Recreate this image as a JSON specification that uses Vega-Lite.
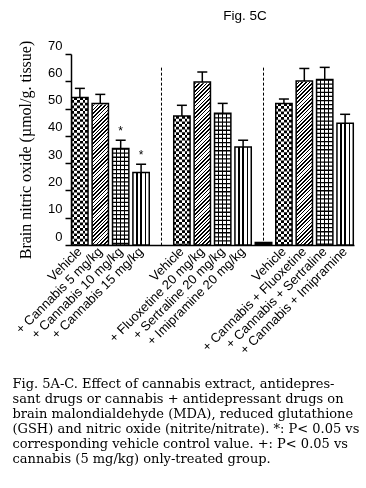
{
"$schema":"https://vega.github.io/schema/vega-lite/v6.json",
"width":283,"height":191,
"autosize":{"type":"none"},
"padding":{"left":71,"top":54,"right":12,"bottom":243},
"background":"white",
"config":{"view":{"stroke":null},"axis":{"labelFont":"Liberation Sans","labelColor":"#000","domainColor":"#000","tickColor":"#000","titleColor":"#000"},
"axisY":{"values":[0,10,20,30,40,50,60,70],"tickSize":6,"tickWidth":1.5,"domainWidth":1.5,"labelFontSize":13,"labelPadding":3,"labelOffset":-9,"grid":false,"titleFont":"Liberation Serif","titleFontSize":16,"titleFontWeight":"normal","titleAngle":-90,"titleX":-46,"titleY":95.5,"titleAlign":"center","titleBaseline":"middle"}},
"title":{"text":"Fig. 5C","font":"Liberation Sans","fontSize":13.5,"fontWeight":"normal","color":"#000","anchor":"middle","frame":"group","dx":32.5,"baseline":"middle","offset":10},
"datasets":{
"bars":[
{"key":"01|Vehicle","mean":54.1,"upper":57.4,"pattern":"checker","sig":""},
{"key":"02|+ Cannabis 5 mg/kg","mean":51.9,"upper":55.2,"pattern":"hatch","sig":""},
{"key":"03|+ Cannabis 10 mg/kg","mean":35.4,"upper":38.4,"pattern":"grid","sig":"*"},
{"key":"04|+ Cannabis 15 mg/kg","mean":26.6,"upper":29.6,"pattern":"vstripe","sig":"*"},
{"key":"06|Vehicle","mean":47.3,"upper":51.2,"pattern":"checker","sig":""},
{"key":"07|+ Fluoxetine 20 mg/kg","mean":59.7,"upper":63.4,"pattern":"hatch","sig":""},
{"key":"08|+ Sertraline 20 mg/kg","mean":48.3,"upper":51.9,"pattern":"grid","sig":""},
{"key":"09|+ Imipramine 20 mg/kg","mean":35.9,"upper":38.4,"pattern":"vstripe","sig":""},
{"key":"11|Vehicle","mean":51.9,"upper":53.5,"pattern":"checker","sig":""},
{"key":"12|+ Cannabis + Fluoxetine","mean":60.1,"upper":64.7,"pattern":"hatch","sig":""},
{"key":"13|+ Cannabis + Sertraline","mean":60.7,"upper":65.1,"pattern":"grid","sig":""},
{"key":"14|+ Cannabis + Imipramine","mean":44.6,"upper":47.9,"pattern":"vstripe","sig":""}
],
"seps":[{"key":"05|","top":65},{"key":"10|","top":65}],
"blob":[{"key":"10|","value":1.2}]
},
"data":{"name":"bars"},
"encoding":{
"x":{"field":"key","type":"nominal","sort":null,
"scale":{"domain":["01|Vehicle","02|+ Cannabis 5 mg/kg","03|+ Cannabis 10 mg/kg","04|+ Cannabis 15 mg/kg","05|","06|Vehicle","07|+ Fluoxetine 20 mg/kg","08|+ Sertraline 20 mg/kg","09|+ Imipramine 20 mg/kg","10|","11|Vehicle","12|+ Cannabis + Fluoxetine","13|+ Cannabis + Sertraline","14|+ Cannabis + Imipramine"],"paddingInner":0.2,"paddingOuter":0.035},
"axis":{"labelExpr":"split(datum.value,'|')[1]","labelAngle":-45,"labelAlign":"right","labelBaseline":"middle","labelFontSize":13,"labelPadding":4,"ticks":false,"domainWidth":1.5,"labelOverlap":false,"labelLimit":0,
"title":["Fig. 5A-C. Effect of cannabis extract, antidepres-","sant drugs or cannabis + antidepressant drugs on","brain malondialdehyde (MDA), reduced glutathione","(GSH) and nitric oxide (nitrite/nitrate). *: P< 0.05 vs","corresponding vehicle control value.  +: P< 0.05 vs","cannabis (5 mg/kg) only-treated group."],
"titleFont":"DejaVu Serif","titleFontSize":13,"titleFontWeight":"normal","titleX":-59,"titleY":132,"titleAlign":"left","titleBaseline":"top","titleLineHeight":15}}
},
"layer":[
{"transform":[{"filter":"datum.pattern=='checker'"}],
"mark":{"type":"bar","fill":{"gradient":"linear","x1":0,"y1":0,"x2":1,"y2":0,"stops":[
{"offset":0,"color":"#000"},{"offset":0.1667,"color":"#000"},{"offset":0.1667,"color":"#fff"},{"offset":0.3333,"color":"#fff"},{"offset":0.3333,"color":"#000"},{"offset":0.5,"color":"#000"},{"offset":0.5,"color":"#fff"},{"offset":0.6667,"color":"#fff"},{"offset":0.6667,"color":"#000"},{"offset":0.8333,"color":"#000"},{"offset":0.8333,"color":"#fff"},{"offset":1,"color":"#fff"}]}},
"encoding":{"y":{"field":"mean","type":"quantitative","scale":{"domain":[0,70]},"title":"Brain nitric oxide (µmol/g. tissue)"}}},
{"transform":[{"filter":"datum.pattern=='checker'"}],
"mark":{"type":"rule","stroke":"#fff","strokeWidth":16.32,"strokeDash":[2.72,2.72],"blend":"difference"},
"encoding":{"y":{"field":"mean","type":"quantitative"},"y2":{"datum":0}}},
{"transform":[{"filter":"datum.pattern=='grid' || datum.pattern=='vstripe'"}],
"mark":{"type":"bar","fill":{"gradient":"linear","x1":0,"y1":0,"x2":1,"y2":0,"stops":[
{"offset":0,"color":"#fff"},{"offset":0.21,"color":"#fff"},{"offset":0.21,"color":"#000"},{"offset":0.29,"color":"#000"},{"offset":0.29,"color":"#fff"},{"offset":0.46,"color":"#fff"},{"offset":0.46,"color":"#000"},{"offset":0.54,"color":"#000"},{"offset":0.54,"color":"#fff"},{"offset":0.71,"color":"#fff"},{"offset":0.71,"color":"#000"},{"offset":0.79,"color":"#000"},{"offset":0.79,"color":"#fff"},{"offset":1,"color":"#fff"}]}},
"encoding":{"y":{"field":"mean","type":"quantitative"}}},
{"transform":[{"filter":"datum.pattern=='grid'"}],
"mark":{"type":"rule","stroke":"#000","strokeWidth":16.32,"strokeDash":[1.3,2.8]},
"encoding":{"y":{"field":"mean","type":"quantitative"},"y2":{"datum":0}}},
{"transform":[{"filter":"datum.pattern=='hatch'"}],
"mark":{"type":"bar","fill":{"gradient":"linear","x1":0,"y1":0,"x2":0.09208,"y2":1.0776,"stops":[
{"offset":0,"color":"#000"},{"offset":0.0075,"color":"#000"},{"offset":0.0075,"color":"#fff"},{"offset":0.018,"color":"#fff"},
{"offset":0.018,"color":"#000"},{"offset":0.0255,"color":"#000"},{"offset":0.0255,"color":"#fff"},{"offset":0.036,"color":"#fff"},
{"offset":0.036,"color":"#000"},{"offset":0.0435,"color":"#000"},{"offset":0.0435,"color":"#fff"},{"offset":0.054,"color":"#fff"},
{"offset":0.054,"color":"#000"},{"offset":0.0615,"color":"#000"},{"offset":0.0615,"color":"#fff"},{"offset":0.072,"color":"#fff"},
{"offset":0.072,"color":"#000"},{"offset":0.0795,"color":"#000"},{"offset":0.0795,"color":"#fff"},{"offset":0.09,"color":"#fff"},
{"offset":0.09,"color":"#000"},{"offset":0.0975,"color":"#000"},{"offset":0.0975,"color":"#fff"},{"offset":0.108,"color":"#fff"},
{"offset":0.108,"color":"#000"},{"offset":0.1155,"color":"#000"},{"offset":0.1155,"color":"#fff"},{"offset":0.126,"color":"#fff"},
{"offset":0.126,"color":"#000"},{"offset":0.1335,"color":"#000"},{"offset":0.1335,"color":"#fff"},{"offset":0.144,"color":"#fff"},
{"offset":0.144,"color":"#000"},{"offset":0.1515,"color":"#000"},{"offset":0.1515,"color":"#fff"},{"offset":0.162,"color":"#fff"},
{"offset":0.162,"color":"#000"},{"offset":0.1695,"color":"#000"},{"offset":0.1695,"color":"#fff"},{"offset":0.18,"color":"#fff"},
{"offset":0.18,"color":"#000"},{"offset":0.1875,"color":"#000"},{"offset":0.1875,"color":"#fff"},{"offset":0.198,"color":"#fff"},
{"offset":0.198,"color":"#000"},{"offset":0.2055,"color":"#000"},{"offset":0.2055,"color":"#fff"},{"offset":0.216,"color":"#fff"},
{"offset":0.216,"color":"#000"},{"offset":0.2235,"color":"#000"},{"offset":0.2235,"color":"#fff"},{"offset":0.234,"color":"#fff"},
{"offset":0.234,"color":"#000"},{"offset":0.2415,"color":"#000"},{"offset":0.2415,"color":"#fff"},{"offset":0.252,"color":"#fff"},
{"offset":0.252,"color":"#000"},{"offset":0.2595,"color":"#000"},{"offset":0.2595,"color":"#fff"},{"offset":0.27,"color":"#fff"},
{"offset":0.27,"color":"#000"},{"offset":0.2775,"color":"#000"},{"offset":0.2775,"color":"#fff"},{"offset":0.288,"color":"#fff"},
{"offset":0.288,"color":"#000"},{"offset":0.2955,"color":"#000"},{"offset":0.2955,"color":"#fff"},{"offset":0.306,"color":"#fff"},
{"offset":0.306,"color":"#000"},{"offset":0.3135,"color":"#000"},{"offset":0.3135,"color":"#fff"},{"offset":0.324,"color":"#fff"},
{"offset":0.324,"color":"#000"},{"offset":0.3315,"color":"#000"},{"offset":0.3315,"color":"#fff"},{"offset":0.342,"color":"#fff"},
{"offset":0.342,"color":"#000"},{"offset":0.3495,"color":"#000"},{"offset":0.3495,"color":"#fff"},{"offset":0.36,"color":"#fff"},
{"offset":0.36,"color":"#000"},{"offset":0.3675,"color":"#000"},{"offset":0.3675,"color":"#fff"},{"offset":0.378,"color":"#fff"},
{"offset":0.378,"color":"#000"},{"offset":0.3855,"color":"#000"},{"offset":0.3855,"color":"#fff"},{"offset":0.396,"color":"#fff"},
{"offset":0.396,"color":"#000"},{"offset":0.4035,"color":"#000"},{"offset":0.4035,"color":"#fff"},{"offset":0.414,"color":"#fff"},
{"offset":0.414,"color":"#000"},{"offset":0.4215,"color":"#000"},{"offset":0.4215,"color":"#fff"},{"offset":0.432,"color":"#fff"},
{"offset":0.432,"color":"#000"},{"offset":0.4395,"color":"#000"},{"offset":0.4395,"color":"#fff"},{"offset":0.45,"color":"#fff"},
{"offset":0.45,"color":"#000"},{"offset":0.4575,"color":"#000"},{"offset":0.4575,"color":"#fff"},{"offset":0.468,"color":"#fff"},
{"offset":0.468,"color":"#000"},{"offset":0.4755,"color":"#000"},{"offset":0.4755,"color":"#fff"},{"offset":0.486,"color":"#fff"},
{"offset":0.486,"color":"#000"},{"offset":0.4935,"color":"#000"},{"offset":0.4935,"color":"#fff"},{"offset":0.504,"color":"#fff"},
{"offset":0.504,"color":"#000"},{"offset":0.5115,"color":"#000"},{"offset":0.5115,"color":"#fff"},{"offset":0.522,"color":"#fff"},
{"offset":0.522,"color":"#000"},{"offset":0.5295,"color":"#000"},{"offset":0.5295,"color":"#fff"},{"offset":0.54,"color":"#fff"},
{"offset":0.54,"color":"#000"},{"offset":0.5475,"color":"#000"},{"offset":0.5475,"color":"#fff"},{"offset":0.558,"color":"#fff"},
{"offset":0.558,"color":"#000"},{"offset":0.5655,"color":"#000"},{"offset":0.5655,"color":"#fff"},{"offset":0.576,"color":"#fff"},
{"offset":0.576,"color":"#000"},{"offset":0.5835,"color":"#000"},{"offset":0.5835,"color":"#fff"},{"offset":0.594,"color":"#fff"},
{"offset":0.594,"color":"#000"},{"offset":0.6015,"color":"#000"},{"offset":0.6015,"color":"#fff"},{"offset":0.612,"color":"#fff"},
{"offset":0.612,"color":"#000"},{"offset":0.6195,"color":"#000"},{"offset":0.6195,"color":"#fff"},{"offset":0.63,"color":"#fff"},
{"offset":0.63,"color":"#000"},{"offset":0.6375,"color":"#000"},{"offset":0.6375,"color":"#fff"},{"offset":0.648,"color":"#fff"},
{"offset":0.648,"color":"#000"},{"offset":0.6555,"color":"#000"},{"offset":0.6555,"color":"#fff"},{"offset":0.666,"color":"#fff"},
{"offset":0.666,"color":"#000"},{"offset":0.6735,"color":"#000"},{"offset":0.6735,"color":"#fff"},{"offset":0.684,"color":"#fff"},
{"offset":0.684,"color":"#000"},{"offset":0.6915,"color":"#000"},{"offset":0.6915,"color":"#fff"},{"offset":0.702,"color":"#fff"},
{"offset":0.702,"color":"#000"},{"offset":0.7095,"color":"#000"},{"offset":0.7095,"color":"#fff"},{"offset":0.72,"color":"#fff"},
{"offset":0.72,"color":"#000"},{"offset":0.7275,"color":"#000"},{"offset":0.7275,"color":"#fff"},{"offset":0.738,"color":"#fff"},
{"offset":0.738,"color":"#000"},{"offset":0.7455,"color":"#000"},{"offset":0.7455,"color":"#fff"},{"offset":0.756,"color":"#fff"},
{"offset":0.756,"color":"#000"},{"offset":0.7635,"color":"#000"},{"offset":0.7635,"color":"#fff"},{"offset":0.774,"color":"#fff"},
{"offset":0.774,"color":"#000"},{"offset":0.7815,"color":"#000"},{"offset":0.7815,"color":"#fff"},{"offset":0.792,"color":"#fff"},
{"offset":0.792,"color":"#000"},{"offset":0.7995,"color":"#000"},{"offset":0.7995,"color":"#fff"},{"offset":0.81,"color":"#fff"},
{"offset":0.81,"color":"#000"},{"offset":0.8175,"color":"#000"},{"offset":0.8175,"color":"#fff"},{"offset":0.828,"color":"#fff"},
{"offset":0.828,"color":"#000"},{"offset":0.8355,"color":"#000"},{"offset":0.8355,"color":"#fff"},{"offset":0.846,"color":"#fff"},
{"offset":0.846,"color":"#000"},{"offset":0.8535,"color":"#000"},{"offset":0.8535,"color":"#fff"},{"offset":0.864,"color":"#fff"},
{"offset":0.864,"color":"#000"},{"offset":0.8715,"color":"#000"},{"offset":0.8715,"color":"#fff"},{"offset":0.882,"color":"#fff"},
{"offset":0.882,"color":"#000"},{"offset":0.8895,"color":"#000"},{"offset":0.8895,"color":"#fff"},{"offset":0.9,"color":"#fff"},
{"offset":0.9,"color":"#000"},{"offset":0.9075,"color":"#000"},{"offset":0.9075,"color":"#fff"},{"offset":0.918,"color":"#fff"},
{"offset":0.918,"color":"#000"},{"offset":0.9255,"color":"#000"},{"offset":0.9255,"color":"#fff"},{"offset":0.936,"color":"#fff"},
{"offset":0.936,"color":"#000"},{"offset":0.9435,"color":"#000"},{"offset":0.9435,"color":"#fff"},{"offset":0.954,"color":"#fff"},
{"offset":0.954,"color":"#000"},{"offset":0.9615,"color":"#000"},{"offset":0.9615,"color":"#fff"},{"offset":0.972,"color":"#fff"},
{"offset":0.972,"color":"#000"},{"offset":0.9795,"color":"#000"},{"offset":0.9795,"color":"#fff"},{"offset":0.99,"color":"#fff"},
{"offset":0.99,"color":"#000"},{"offset":0.9975,"color":"#000"},{"offset":0.9975,"color":"#fff"},{"offset":1,"color":"#fff"}]}},
"encoding":{"y":{"datum":70,"type":"quantitative"},"y2":{"datum":0}}},
{"transform":[{"filter":"datum.pattern=='hatch'"}],
"mark":{"type":"bar","fill":"#fff","stroke":"#fff","strokeWidth":2.2},
"encoding":{"y":{"field":"mean","type":"quantitative"},"y2":{"datum":70}}},
{"mark":{"type":"bar","fill":null,"fillOpacity":0,"stroke":"#000","strokeWidth":1.5},
"encoding":{"y":{"field":"mean","type":"quantitative"}}},
{"mark":{"type":"rule","stroke":"#000","strokeWidth":1.5},
"encoding":{"y":{"field":"mean","type":"quantitative"},"y2":{"field":"upper"}}},
{"mark":{"type":"tick","color":"#000","size":10,"thickness":1.5,"opacity":1},
"encoding":{"y":{"field":"upper","type":"quantitative"}}},
{"mark":{"type":"text","font":"Liberation Sans","fontSize":12,"color":"#000","baseline":"alphabetic","dy":-5.5},
"encoding":{"y":{"field":"upper","type":"quantitative"},"text":{"field":"sig"}}},
{"data":{"name":"seps"},
"mark":{"type":"rule","stroke":"#000","strokeWidth":1,"strokeDash":[3,2]},
"encoding":{"y":{"field":"top","type":"quantitative"},"y2":{"datum":0}}},
{"data":{"name":"blob"},
"mark":{"type":"bar","fill":"#000","width":18},
"encoding":{"y":{"field":"value","type":"quantitative"}}}
]
}
